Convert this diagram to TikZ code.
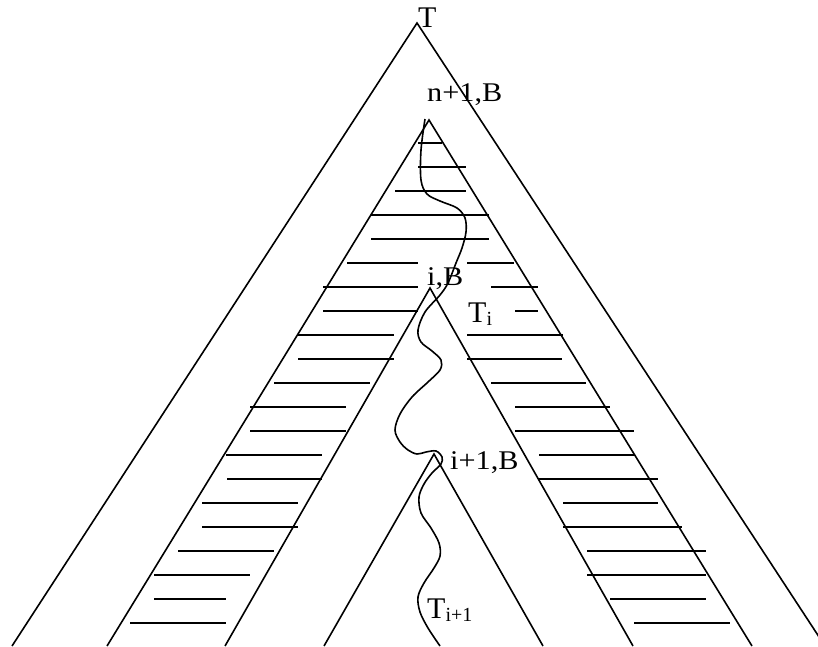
\documentclass[tikz,border=0pt]{standalone}
\usepackage{fontspec}
\setmainfont{Liberation Serif}
\newfontfamily\lblfont{Liberation Serif}[FakeStretch=1.12]
\newcommand{\tsub}[1]{T\raisebox{-3pt}{\fontsize{20}{20}\selectfont #1}}
\tikzset{
  edge/.style={line width=1.6pt},
  hatch/.style={line width=1.7pt},
  lbl/.style={inner sep=0pt, anchor=base west, font=\lblfont\fontsize{27}{27}\selectfont},
  tlbl/.style={inner sep=0pt, anchor=base west, font=\fontsize{30}{30}\selectfont}
}

\begin{document}
\begin{tikzpicture}[x=1pt,y=-1pt]
  \useasboundingbox (0,0) rectangle (818,646);
  \clip (0,0) rectangle (818,646);
  % nested trees
  \coordinate (top) at (417,23);
  \coordinate (nroot) at (429,120);
  \coordinate (iroot) at (430,288);
  \coordinate (jroot) at (434,454);
  \draw[edge] (12,646) -- (top) -- (825,646);
  \draw[edge] (107,646) -- (nroot) -- (752,646);
  \draw[edge] (225,646) -- (iroot) -- (633,646);
  \draw[edge] (324,646) -- (jroot) -- (543,646);
  % hatching
  \foreach \y/\a/\b in {143/418/442, 167/418/466, 191/395/466, 215/371/489,
      239/371/489, 263/347/418, 287/323/418, 311/323/418, 335/298/394,
      359/298/394, 383/274/370, 407/250/346, 431/250/346, 455/226/322,
      479/227/322, 503/202/298, 527/202/298, 551/178/274, 575/154/250,
      599/154/226, 623/130/226,
      263/467/514, 287/491/538, 311/515/538, 335/467/563, 359/467/562,
      383/491/586, 407/515/610, 431/515/634, 455/539/634, 479/539/658,
      503/563/658, 527/563/682, 551/587/706, 575/587/706, 599/610/706,
      623/634/730}
    \draw[hatch] (\a,\y) -- (\b,\y);
  % path
  \draw[edge] plot[smooth, tension=0.55] coordinates {(425,119) (421,150)
    (421,180) (427,194) (440,201) (457,208) (465,218) (466,232) (462,248)
    (456,263) (448,283) (440,295) (425,312) (418,330) (421,342) (432,351)
    (441,360) (440,370) (428,382) (412,397) (400,414) (395,430) (400,442)
    (408,450) (417,454) (426,452) (436,451) (442,457) (441,464) (432,473)
    (424,484) (419,497) (421,513) (431,528) (439,543) (440,556) (434,568)
    (424,583) (418,597) (420,612) (428,628) (440,646)};
  % labels
  \node[tlbl] (tname) at (418,27) {T};
  \node[lbl] (nlbl) at (427,101) {n+1,B};
  \node[lbl] (ilbl) at (427,285) {i,B};
  \node[tlbl] (tilbl) at (468,322) {\tsub{i}};
  \node[lbl] (jlbl) at (450,469) {i+1,B};
  \node[tlbl] (tjlbl) at (427,618) {\tsub{i+1}};
\end{tikzpicture}
\end{document}
